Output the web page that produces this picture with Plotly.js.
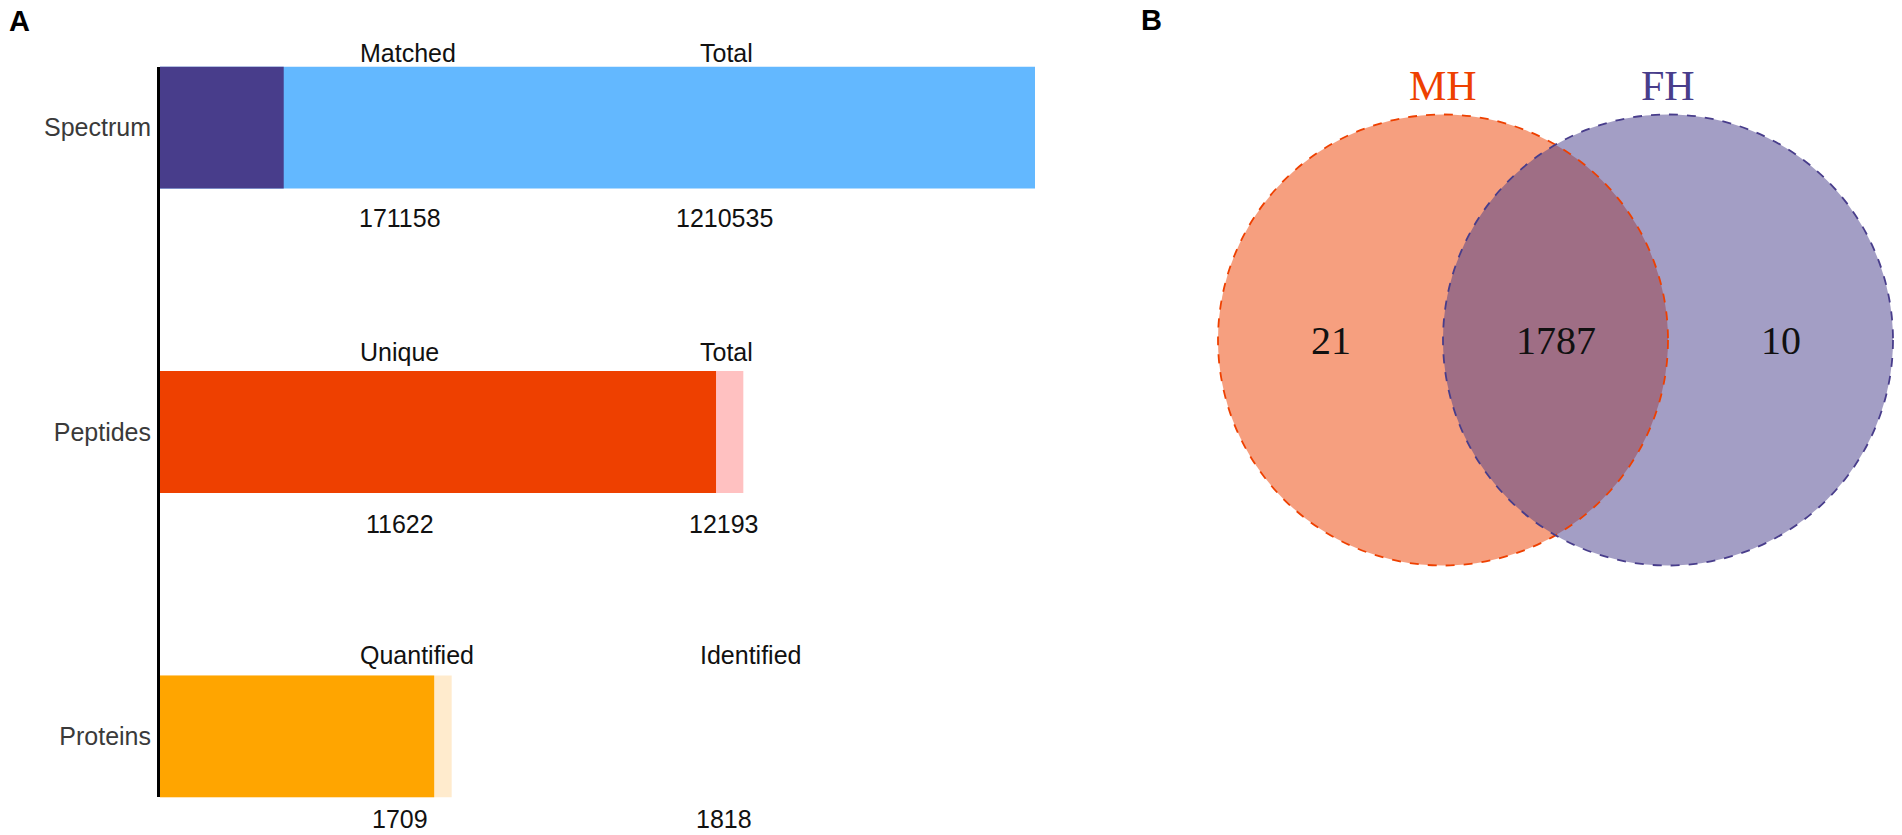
<!DOCTYPE html>
<html>
<head>
<meta charset="utf-8">
<script src="https://cdn.plot.ly/plotly-3.0.1.min.js"></script>
<style>html,body{margin:0;padding:0;background:#fff;}#chart{width:1902px;height:835px;}</style>
</head>
<body>
<div id="chart"></div>
<script>
// ---------- DATA ----------
const categories = ['Spectrum', 'Peptides', 'Proteins'];
const partLabels = ['Matched', 'Unique', 'Quantified'];
const totalLabels = ['Total', 'Total', 'Identified'];
const partValues = [171158, 11622, 1709];
const totalValues = [1210535, 12193, 1818];

const vennSets = ['MH', 'FH'];
const vennOnly = [21, 10];
const vennShared = 1787;

// ---------- STYLE / LAYOUT CONSTANTS ----------
const W = 1902, H = 835;
const partColors = ['#483D8B', '#EE4000', '#FFA500'];
const totalColors = ['#63B8FF', '#FFC1C1', '#FFEBCD'];
const setFill = ['rgba(238,64,0,0.5)', 'rgba(72,61,139,0.5)'];
const setLine = ['rgb(238,64,0)', 'rgb(72,61,139)'];
const rowScale = [1, 1.5, 3];           // relative bar-length scaling per row
const sans = 'Liberation Sans, Arial, sans-serif';
const serif = 'Liberation Serif, Times New Roman, serif';

const fx = px => px / W;
const fy = py => 1 - py / H;

// bar panel geometry (pixels)
const axLeft = 160, axRight = 1035;
const rowTop = 66.6, rowBottom = 797.4;
const labelDy = [-75, -80, -82];
const numDy = [90, 92, 82];
const col1Label = 358, col2Label = 698, col1Num = 400, col2Num = 724;

// venn geometry (pixels)
const vC0 = 1443, vCy = 340, vRx = 225, vRy = 225.5;
const vDomL = 1140, vDomR = 1902;

const traces = [];
const xaxes = ['x', 'x2', 'x3'];
categories.forEach((c, i) => {
  traces.push({
    type: 'bar', orientation: 'h', y: [c], x: [totalValues[i]], base: 0,
    width: 0.4, xaxis: xaxes[i], yaxis: 'y',
    marker: {color: totalColors[i], line: {width: 0}}, hoverinfo: 'x+y'
  });
  traces.push({
    type: 'bar', orientation: 'h', y: [c], x: [partValues[i]], base: 0,
    width: 0.4, xaxis: xaxes[i], yaxis: 'y',
    marker: {color: partColors[i], line: {width: 0}}, hoverinfo: 'x+y'
  });
});
// invisible trace to activate the venn axes
traces.push({type: 'scatter', x: [0], y: [0], xaxis: 'x4', yaxis: 'y4',
  mode: 'markers', marker: {opacity: 0}, hoverinfo: 'skip'});

const annotations = [];
const tf = {family: sans, size: 25, color: '#111'};
categories.forEach((c, i) => {
  annotations.push({xref: 'paper', yref: 'y', x: fx(col1Label), y: c, yshift: -labelDy[i],
    text: partLabels[i], showarrow: false, xanchor: 'left', yanchor: 'middle', font: tf});
  annotations.push({xref: 'paper', yref: 'y', x: fx(col2Label), y: c, yshift: -labelDy[i],
    text: totalLabels[i], showarrow: false, xanchor: 'left', yanchor: 'middle', font: tf});
  annotations.push({xref: 'paper', yref: 'y', x: fx(col1Num), y: c, yshift: -numDy[i],
    text: String(partValues[i]), showarrow: false, xanchor: 'center', yanchor: 'middle', font: tf});
  annotations.push({xref: 'paper', yref: 'y', x: fx(col2Num), y: c, yshift: -numDy[i],
    text: String(totalValues[i]), showarrow: false, xanchor: 'center', yanchor: 'middle', font: tf});
});

// panel letters
annotations.push({xref: 'paper', yref: 'paper', x: fx(19), y: fy(21), text: '<b>A</b>',
  showarrow: false, xanchor: 'center', yanchor: 'middle', font: {family: sans, size: 29, color: '#000'}});
annotations.push({xref: 'paper', yref: 'paper', x: fx(1151), y: fy(20), text: '<b>B</b>',
  showarrow: false, xanchor: 'center', yanchor: 'middle', font: {family: sans, size: 29, color: '#000'}});

// venn
const shapes = [];
const centers = vennSets.map((s, i) => i * 1.0); // centers one radius apart
vennSets.forEach((s, i) => {
  shapes.push({type: 'circle', xref: 'x4', yref: 'y4', x0: centers[i] - 1, x1: centers[i] + 1,
    y0: -1, y1: 1, fillcolor: setFill[i], line: {width: 0}, layer: 'above'});
});
vennSets.forEach((s, i) => {
  shapes.push({type: 'circle', xref: 'x4', yref: 'y4', x0: centers[i] - 1, x1: centers[i] + 1,
    y0: -1, y1: 1, fillcolor: 'rgba(0,0,0,0)', line: {width: 1.8, color: setLine[i], dash: 'dash'}, layer: 'above'});
  annotations.push({xref: 'x4', yref: 'y4', x: centers[i], y: 1.126, text: s, showarrow: false,
    xanchor: 'center', yanchor: 'middle', font: {family: serif, size: 42, color: setLine[i]}});
});
const vf = {family: serif, size: 40, color: '#111'};
annotations.push({xref: 'x4', yref: 'y4', x: centers[0] - 0.5, y: 0, text: String(vennOnly[0]),
  showarrow: false, xanchor: 'center', yanchor: 'middle', font: vf});
annotations.push({xref: 'x4', yref: 'y4', x: (centers[0] + centers[1]) / 2, y: 0, text: String(vennShared),
  showarrow: false, xanchor: 'center', yanchor: 'middle', font: vf});
annotations.push({xref: 'x4', yref: 'y4', x: centers[1] + 0.5, y: 0, text: String(vennOnly[1]),
  showarrow: false, xanchor: 'center', yanchor: 'middle', font: vf});

const xDomain = [fx(axLeft), fx(axRight)];
const hiddenX = (i) => ({
  domain: xDomain, range: [0, totalValues[i] * rowScale[i]], visible: false,
  showgrid: false, zeroline: false, fixedrange: true
});

const layout = {
  width: W, height: H,
  margin: {l: 0, r: 0, t: 0, b: 0, pad: 0},
  paper_bgcolor: '#fff', plot_bgcolor: 'rgba(0,0,0,0)',
  showlegend: false, barmode: 'overlay',
  xaxis: Object.assign(hiddenX(0), {anchor: 'y'}),
  xaxis2: Object.assign(hiddenX(1), {anchor: 'y', overlaying: 'x'}),
  xaxis3: Object.assign(hiddenX(2), {anchor: 'y', overlaying: 'x'}),
  yaxis: {
    type: 'category', categoryarray: categories, categoryorder: 'array',
    range: [2.2, -0.2], domain: [fy(rowBottom), fy(rowTop)], anchor: 'x',
    showline: true, linecolor: '#000', linewidth: 3, ticks: '', showgrid: false,
    zeroline: false, ticklabelstandoff: 1,
    tickfont: {family: sans, size: 25, color: '#3a3a3a'}, fixedrange: true
  },
  xaxis4: {
    domain: [fx(vDomL), fx(vDomR)],
    range: [(vDomL - vC0) / vRx, (vDomR - vC0) / vRx],
    visible: false, showgrid: false, zeroline: false, anchor: 'y4'
  },
  yaxis4: {
    domain: [0, 1],
    range: [(vCy - H) / vRy, vCy / vRy],
    visible: false, showgrid: false, zeroline: false, anchor: 'x4'
  },
  annotations: annotations,
  shapes: shapes
};

Plotly.newPlot('chart', traces, layout, {displayModeBar: false, staticPlot: true});
</script>
</body>
</html>
